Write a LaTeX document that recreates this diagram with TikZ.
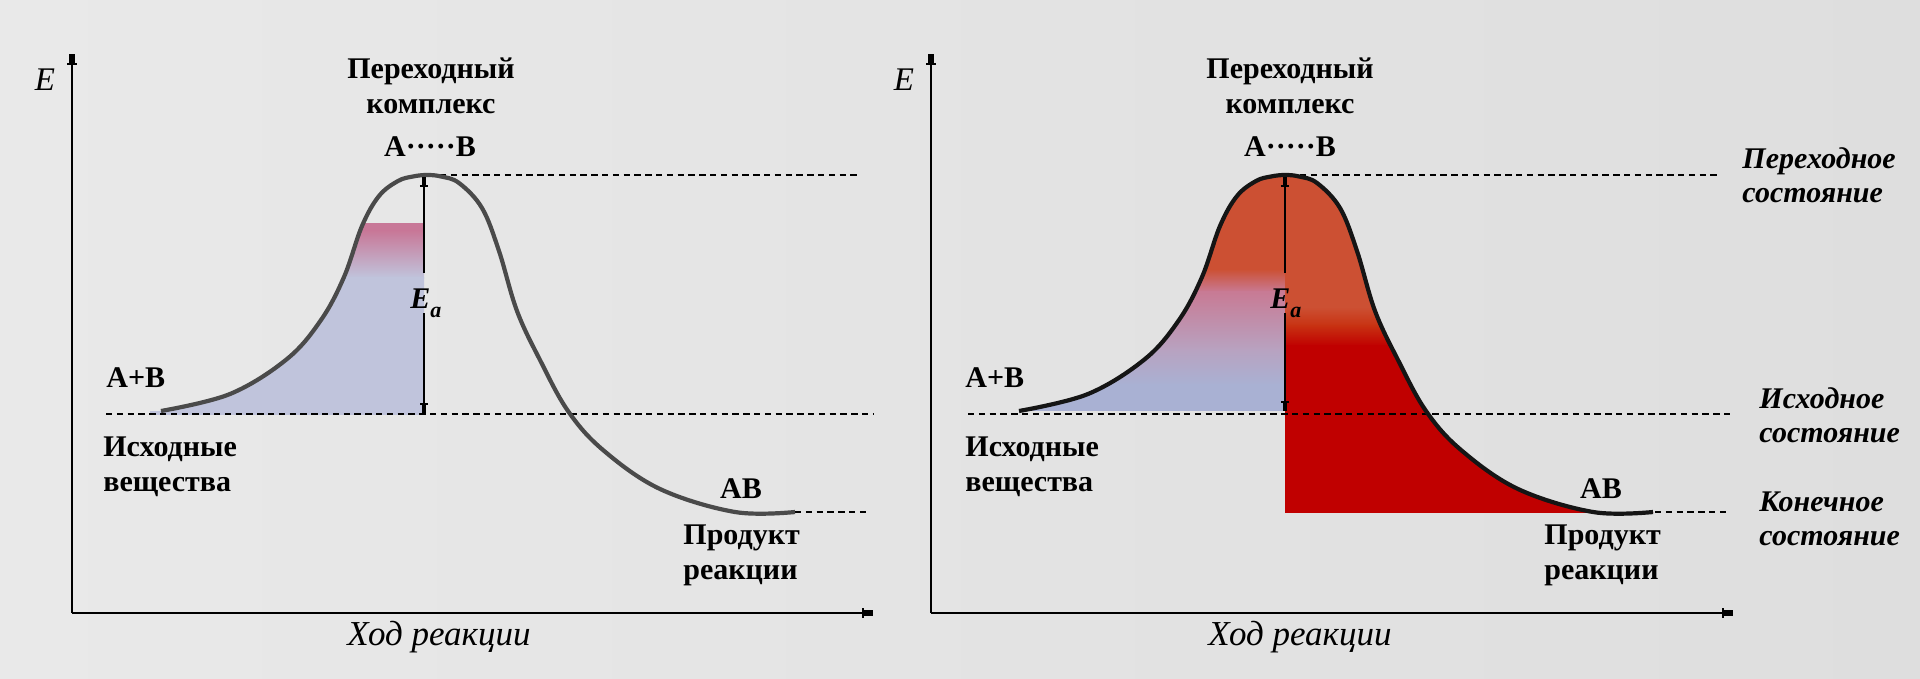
\documentclass[tikz,border=0pt]{standalone}
\usepackage{fontspec}
\setmainfont{Liberation Serif}
\usetikzlibrary{arrows.meta}
\definecolor{bgA}{HTML}{E9E9E9}
\definecolor{bgB}{HTML}{DEDEDE}
\definecolor{curvegray}{HTML}{4A4A4A}
\definecolor{curvedark}{HTML}{151515}
\definecolor{pinkL}{HTML}{C87898}
\definecolor{blueL}{HTML}{C0C4DC}
\definecolor{redT}{HTML}{CC5033}
\definecolor{redM}{HTML}{C83212}
\definecolor{redD}{HTML}{C00000}
\definecolor{pinkR}{HTML}{C87A94}
\definecolor{mauveR}{HTML}{B8A2C0}
\definecolor{blueR}{HTML}{A9B1D3}
\newcommand\curvepath{plot[smooth,tension=0.6] coordinates {(161,411) (230,394) (287,359) (321,320) (344,277) (362,226) (379,196) (398,181) (413,176.5) (427,175) (441,176.5) (459,183) (482,208) (499,251) (517,311) (540,360) (568,411) (603,450) (660,489) (735,512) (795,512)}}
\newcommand\lblfont{\fontsize{15}{17.5}\selectfont\bfseries}
\newcommand\statefont{\fontsize{15}{17}\selectfont\bfseries\itshape}
\newcommand\axfont{\fontsize{17.5}{20}\selectfont\itshape}
\newcommand\Efont{\fontsize{16.5}{18}\selectfont\itshape}
\newcommand\Eatext{{\lblfont\itshape E\raisebox{-4.5pt}{\fontsize{11}{12}\selectfont a}}}
\begin{document}
\begin{tikzpicture}[x=0.5pt,y=-0.5pt,
  lbl/.style={font=\lblfont, inner sep=0pt, align=left},
  lblc/.style={font=\lblfont, inner sep=0pt, align=center},
  statelbl/.style={font=\statefont, inner sep=0pt, align=left, anchor=west},
  axlbl/.style={font=\axfont, inner sep=0pt},
  elbl/.style={font=\Efont, inner sep=0pt},
  axisline/.style={line width=0.9pt, -{Bar[width=5pt,line width=0.9pt,sep=0pt]Rectangle[length=4.5pt,width=2.6pt]}},
  eaup/.style={line width=0.7pt, -{Bar[width=4.2pt,line width=0.8pt,sep=0pt]Rectangle[length=4pt,width=2.3pt]}},
  dashline/.style={line width=0.75pt, dash pattern=on 3.2pt off 2.2pt},
  curveL/.style={line width=2.1pt, draw=curvegray, line join=round},
  curveR/.style={line width=2.1pt, draw=curvedark, line join=round}]
\useasboundingbox (0,0) rectangle (1920,679);
\shade[left color=bgA, right color=bgB] (0,0) rectangle (1920,679);

% ---------------- left panel ----------------
\begin{scope}
  \clip (150,224) rectangle (424,414);
  \clip \curvepath -- (795,700) -- (150,700) -- (150,411) -- cycle;
  \fill[pinkL] (150,220) rectangle (430,232);
  \shade[top color=pinkL, bottom color=blueL] (150,231) rectangle (430,278);
  \fill[blueL] (150,277) rectangle (430,420);
\end{scope}

\coordinate (LyB) at (72,613);
\coordinate (LyT) at (72,54);
\coordinate (LxR) at (873,613);
\draw[axisline] (LyB) -- (LyT);
\draw[axisline] (LyB) -- (LxR);

\coordinate (LtopA) at (440,175);  \coordinate (LtopB) at (858,175);
\coordinate (LmidA) at (106,414);  \coordinate (LmidB) at (873,414);
\coordinate (LprA) at (795,512);   \coordinate (LprB) at (870,512);
\draw[dashline] (LtopA) -- (LtopB);
\draw[dashline] (LmidA) -- (LmidB);
\draw[dashline] (LprA) -- (LprB);

\draw[curveL] \curvepath;

\coordinate (LeaTop) at (424,177);
\coordinate (LeaG1) at (424,273);
\coordinate (LeaG2) at (424,313);
\coordinate (LeaBot) at (424,413);
\draw[eaup] (LeaG1) -- (LeaTop);
\draw[eaup] (LeaG2) -- (LeaBot);

\node[elbl] (LE) at (45,80) {E};
\node[lblc] (LTS) at (431,86) {Переходный\\комплекс};
\node[lblc] (LAB) at (430,147) {A·····B};
\node[inner sep=0pt, anchor=base west] (LEa) at (410,308) {\Eatext};
\node[lbl, anchor=west] (LApB) at (106,378) {A+B};
\node[lbl, anchor=west] (LReag) at (103,467) {Исходные\\вещества};
\node[lblc] (LProdF) at (741,489) {AB};
\node[lbl, anchor=west] (LProd) at (683,555) {Продукт\\реакции};
\node[axlbl] (LX) at (439,637) {Ход реакции};

% ---------------- right panel ----------------
\begin{scope}[shift={(858,0)}]
  \begin{scope}
    \clip \curvepath -- (795,700) -- (150,700) -- (150,411) -- cycle;
    % left of the Ea line
    \fill[redT] (150,165) rectangle (427,270);
    \shade[top color=redT, bottom color=pinkR] (150,269) rectangle (427,292);
    \shade[top color=pinkR, bottom color=mauveR] (150,291) rectangle (427,350);
    \shade[top color=mauveR, bottom color=blueR] (150,349) rectangle (427,385);
    \fill[blueR] (150,384) rectangle (427,411);
    % right of the Ea line
    \fill[redT] (427,165) rectangle (800,308);
    \shade[top color=redT, bottom color=redM] (427,307) rectangle (800,326);
    \shade[top color=redM, bottom color=redD] (427,325) rectangle (800,346);
    \fill[redD] (427,345) rectangle (800,513);
  \end{scope}

  \coordinate (RyB) at (73,613);
  \coordinate (RyT) at (73,54);
  \coordinate (RxR) at (875,613);
  \draw[axisline] (RyB) -- (RyT);
  \draw[axisline] (RyB) -- (RxR);

  \coordinate (RtopA) at (442,175);  \coordinate (RtopB) at (862,175);
  \coordinate (RmidA) at (110,414);  \coordinate (RmidB) at (875,414);
  \coordinate (RprA) at (797,512);   \coordinate (RprB) at (872,512);
  \draw[dashline] (RtopA) -- (RtopB);
  \draw[dashline] (RmidA) -- (RmidB);
  \draw[dashline] (RprA) -- (RprB);

  \draw[curveR] \curvepath;

  \coordinate (ReaTop) at (427,177);
  \coordinate (ReaG1) at (427,273);
  \coordinate (ReaG2) at (427,313);
  \coordinate (ReaBot) at (427,411);
  \draw[eaup] (ReaG1) -- (ReaTop);
  \draw[eaup] (ReaG2) -- (ReaBot);

  \node[elbl] (RE) at (46,80) {E};
  \node[lblc] (RTS) at (432,86) {Переходный\\комплекс};
  \node[lblc] (RAB) at (432,147) {A·····B};
  \node[inner sep=0pt, anchor=base west] (REa) at (412,308) {\Eatext};
  \node[lbl, anchor=west] (RApB) at (107,378) {A+B};
  \node[lbl, anchor=west] (RReag) at (107,467) {Исходные\\вещества};
  \node[lblc] (RProdF) at (743,489) {AB};
  \node[lbl, anchor=west] (RProd) at (686,555) {Продукт\\реакции};
  \node[axlbl] (RX) at (442,637) {Ход реакции};

  \node[statelbl] (RS1) at (884,175) {Переходное\\состояние};
  \node[statelbl] (RS2) at (901,415) {Исходное\\состояние};
  \node[statelbl] (RS3) at (901,519) {Конечное\\состояние};
\end{scope}
\end{tikzpicture}
\end{document}
